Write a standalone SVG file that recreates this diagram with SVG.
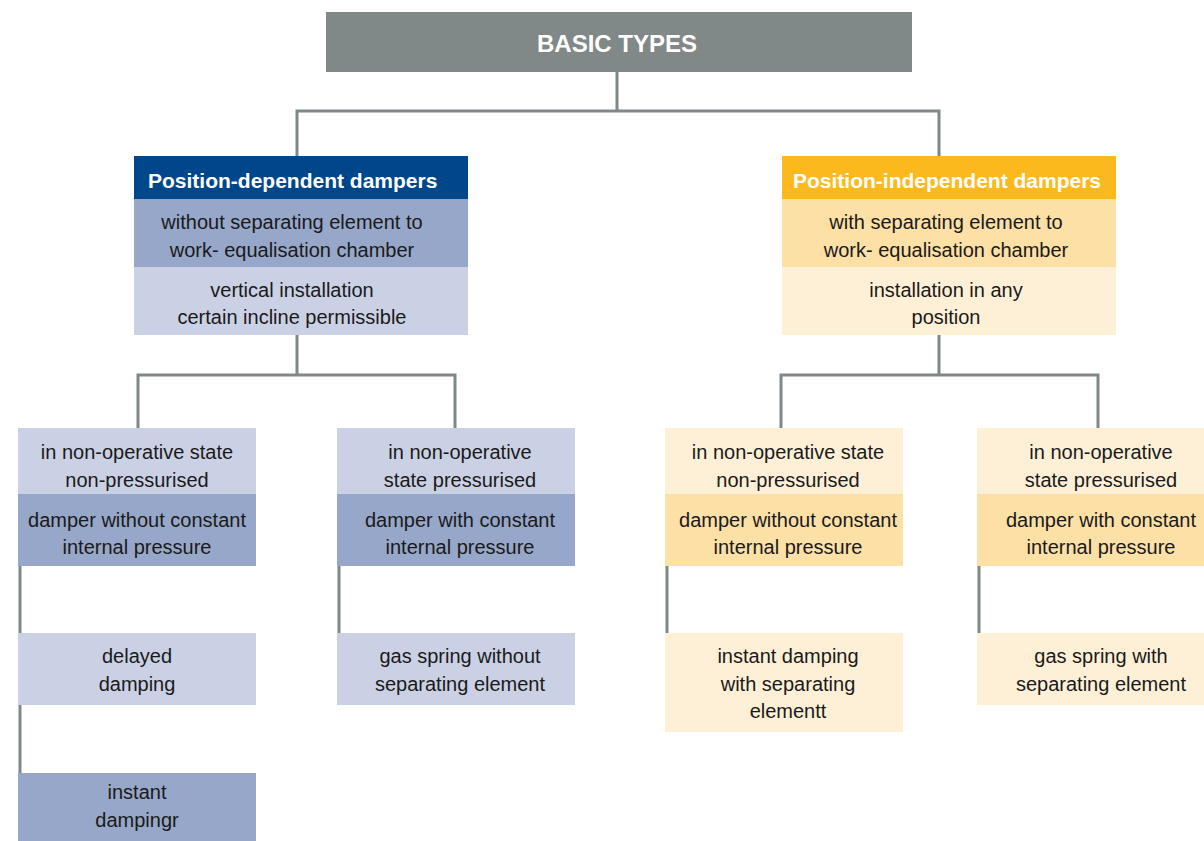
<svg xmlns="http://www.w3.org/2000/svg" width="1204" height="841" viewBox="0 0 1204 841">
<style>
text{font-family:"Liberation Sans",Arial,sans-serif;font-size:20px;fill:#1a1a1a;text-anchor:middle}
.hd{font-weight:bold;fill:#fff;font-size:21px;text-anchor:start}
.top{font-weight:bold;fill:#fff;font-size:24px}
.conn{fill:none;stroke:#7f8788;stroke-width:3}
.gray{fill:#818888}
.bd{fill:#00468b}
.bm{fill:#97a7c9}
.bl{fill:#cbd1e5}
.yd{fill:#fbb91e}
.ym{fill:#fde0a6}
.yl{fill:#fef0d6}
</style>
<rect width="1204" height="841" fill="#fff"/>
<g id="connectors">
<path class="conn" d="M617 72V111M297 158V111H939V158"/>
<path class="conn" d="M297 335V375M138 430V375H455V430"/>
<path class="conn" d="M939 335V375M781 430V375H1098V430"/>
<path class="conn" d="M20 566V633M20 705V773"/>
<path class="conn" d="M339 566V633"/>
<path class="conn" d="M667 566V633"/>
<path class="conn" d="M979 566V633"/>
</g>
<g id="basic-types">
<rect class="gray" x="326" y="12" width="586" height="60"/>
<text class="top" x="617" y="52">BASIC TYPES</text>
</g>
<g id="position-dependent">
<rect class="bd" x="134" y="156" width="334" height="43"/>
<text class="hd" x="148" y="188">Position-dependent dampers</text>
<rect class="bm" x="134" y="199" width="334" height="68"/>
<text x="292" y="229">without separating element to</text>
<text x="292" y="257">work- equalisation chamber</text>
<rect class="bl" x="134" y="267" width="334" height="68"/>
<text x="292" y="297">vertical installation</text>
<text x="292" y="324">certain incline permissible</text>
</g>
<g id="position-independent">
<rect class="yd" x="782" y="156" width="334" height="43"/>
<text class="hd" x="793" y="188">Position-independent dampers</text>
<rect class="ym" x="782" y="199" width="334" height="68"/>
<text x="946" y="229">with separating element to</text>
<text x="946" y="257">work- equalisation chamber</text>
<rect class="yl" x="782" y="267" width="334" height="68"/>
<text x="946" y="297">installation in any</text>
<text x="946" y="324">position</text>
</g>
<g id="pd-non-pressurised">
<rect class="bl" x="18" y="428" width="238" height="66"/>
<text x="137" y="459">in non-operative state</text>
<text x="137" y="487">non-pressurised</text>
<rect class="bm" x="18" y="494" width="238" height="72"/>
<text x="137" y="527">damper without constant</text>
<text x="137" y="554">internal pressure</text>
</g>
<g id="pd-pressurised">
<rect class="bl" x="337" y="428" width="238" height="66"/>
<text x="460" y="459">in non-operative</text>
<text x="460" y="487">state pressurised</text>
<rect class="bm" x="337" y="494" width="238" height="72"/>
<text x="460" y="527">damper with constant</text>
<text x="460" y="554">internal pressure</text>
</g>
<g id="pi-non-pressurised">
<rect class="yl" x="665" y="428" width="238" height="66"/>
<text x="788" y="459">in non-operative state</text>
<text x="788" y="487">non-pressurised</text>
<rect class="ym" x="665" y="494" width="238" height="72"/>
<text x="788" y="527">damper without constant</text>
<text x="788" y="554">internal pressure</text>
</g>
<g id="pi-pressurised">
<rect class="yl" x="977" y="428" width="240" height="66"/>
<text x="1101" y="459">in non-operative</text>
<text x="1101" y="487">state pressurised</text>
<rect class="ym" x="977" y="494" width="240" height="72"/>
<text x="1101" y="527">damper with constant</text>
<text x="1101" y="554">internal pressure</text>
</g>
<g id="delayed-damping">
<rect class="bl" x="18" y="633" width="238" height="72"/>
<text x="137" y="663">delayed</text>
<text x="137" y="691">damping</text>
</g>
<g id="gas-spring-without">
<rect class="bl" x="337" y="633" width="238" height="72"/>
<text x="460" y="663">gas spring without</text>
<text x="460" y="691">separating element</text>
</g>
<g id="instant-damping-sep">
<rect class="yl" x="665" y="633" width="238" height="99"/>
<text x="788" y="663">instant damping</text>
<text x="788" y="691">with separating</text>
<text x="788" y="718">elementt</text>
</g>
<g id="gas-spring-with">
<rect class="yl" x="977" y="633" width="240" height="72"/>
<text x="1101" y="663">gas spring with</text>
<text x="1101" y="691">separating element</text>
</g>
<g id="instant-damping">
<rect class="bm" x="18" y="773" width="238" height="68"/>
<text x="137" y="799">instant</text>
<text x="137" y="827">dampingr</text>
</g>
</svg>
